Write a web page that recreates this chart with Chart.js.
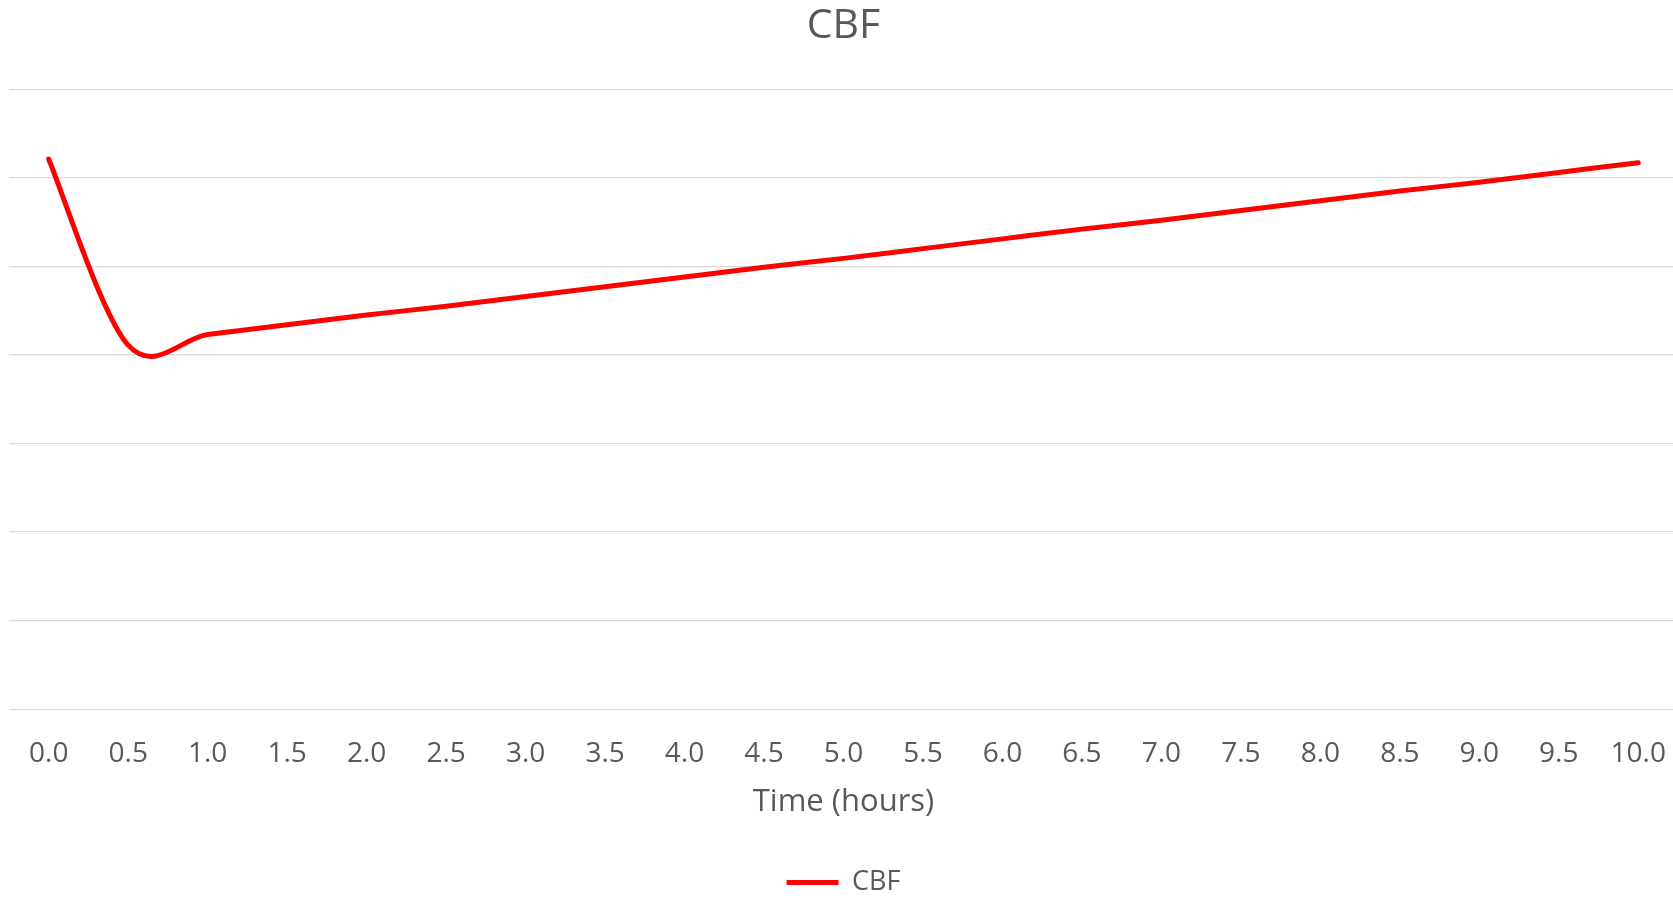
<!DOCTYPE html>
<html>
<head>
<meta charset="utf-8">
<script src="https://cdn.jsdelivr.net/npm/chart.js@4.4.1/dist/chart.umd.min.js"></script>
<style>
  html, body { margin: 0; padding: 0; background: #fff; overflow: hidden; }
  /* plot area runs a few px past the right edge, as in the original */
  #wrap { width: 1678px; height: 898px; }
</style>
</head>
<body>
<div id="wrap"><canvas id="graficoCBF"></canvas></div>
<script>
const tempos = ['0.0', '0.5', '1.0', '1.5', '2.0', '2.5', '3.0', '3.5', '4.0', '4.5', '5.0',
  '5.5', '6.0', '6.5', '7.0', '7.5', '8.0', '8.5', '9.0', '9.5', '10.0'];
const cbf = [6.21, 4.11, 4.23, 4.34, 4.45, 4.55, 4.66, 4.77, 4.88, 4.99, 5.09,
  5.20, 5.31, 5.42, 5.52, 5.63, 5.74, 5.85, 5.95, 6.06, 6.17];
const yTicks = [0, 1, 2, 3, 4, 5, 6, 7];

const cinza = '#595959';
const fonte = "'Open Sans', 'Liberation Sans', sans-serif";

// Excel style smoothing: plain Catmull-Rom (1/6 of the neighbour span)
// on the points the line controller already placed
const suavizarExcel = {
  id: 'suavizarExcel',
  beforeDatasetDraw(chart, args) {
    const meta = args.meta;
    const linha = meta.dataset;
    if (!linha) return;
    linha.updateControlPoints(chart.chartArea, meta.iScale.axis);
    const pts = meta.data;
    for (let i = 0; i < pts.length; i++) {
      const ant = pts[Math.max(i - 1, 0)];
      const prox = pts[Math.min(i + 1, pts.length - 1)];
      const dx = (prox.x - ant.x) / 6;
      const dy = (prox.y - ant.y) / 6;
      pts[i].cp1x = pts[i].x - dx;
      pts[i].cp1y = pts[i].y - dy;
      pts[i].cp2x = pts[i].x + dx;
      pts[i].cp2y = pts[i].y + dy;
    }
    linha._path = undefined;
  }
};

const ctx = document.getElementById('graficoCBF').getContext('2d');
window.graficoCBF = new Chart(ctx, {
  type: 'line',
  data: {
    labels: tempos,
    datasets: [{
      label: 'CBF',
      data: cbf,
      borderColor: '#ff0000',
      backgroundColor: '#ff0000',
      borderWidth: 5,
      borderCapStyle: 'round',
      borderJoinStyle: 'round',
      pointRadius: 0,
      pointHoverRadius: 0,
      tension: 0.4,
      fill: false
    }]
  },
  options: {
    responsive: true,
    maintainAspectRatio: false,
    animation: false,
    layout: { padding: { left: 9, right: 0, top: 0, bottom: -8 } },
    scales: {
      x: {
        type: 'category',
        offset: true,
        grid: { display: false, drawTicks: false },
        border: { display: false },
        ticks: {
          color: cinza,
          font: { family: fonte, size: 28 },
          padding: 28,
          maxRotation: 0,
          autoSkip: false
        },
        title: {
          display: true,
          text: 'Time (hours)',
          color: cinza,
          font: { family: fonte, size: 31 },
          padding: { top: -15, bottom: 48 }
        },
        // gridlines run edge to edge in the original, so drop the label padding
        afterFit: (scale) => { scale.paddingLeft = 0; scale.paddingRight = 0; }
      },
      y: {
        min: yTicks[0],
        max: yTicks[yTicks.length - 1],
        afterBuildTicks: (scale) => { scale.ticks = yTicks.map(v => ({ value: v })); },
        grid: { color: '#d9d9d9', lineWidth: 1.3, drawTicks: false },
        border: { display: false },
        ticks: { display: false }
      }
    },
    plugins: {
      title: {
        display: true,
        text: 'CBF',
        color: cinza,
        font: { family: fonte, size: 41, weight: 'normal' },
        padding: { top: 2, bottom: 38 }
      },
      legend: {
        position: 'bottom',
        labels: {
          color: cinza,
          font: { family: fonte, size: 27 },
          usePointStyle: true,
          pointStyle: 'line',
          pointStyleWidth: 52,
          padding: 0
        }
      },
      tooltip: { enabled: false }
    }
  },
  plugins: [suavizarExcel]
});
</script>
</body>
</html>
